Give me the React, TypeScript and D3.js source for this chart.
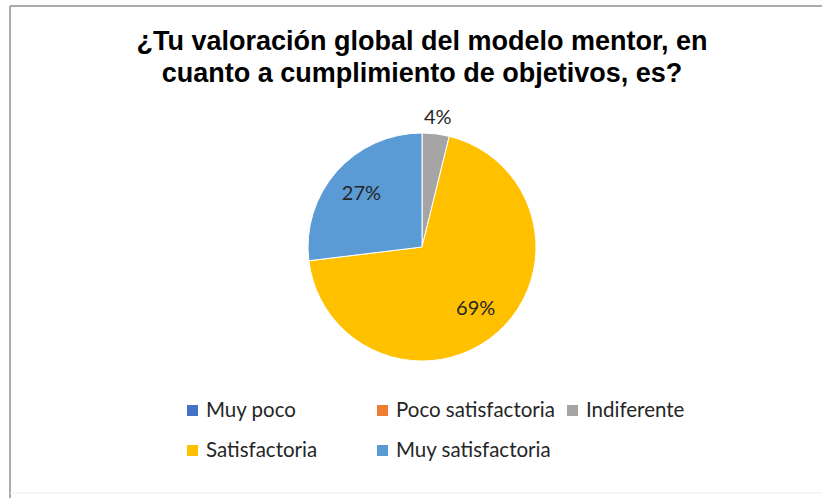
import * as d3 from "d3"
import React, { useEffect, useRef } from "react"

// Datos (26 respuestas)
const categories = ["Muy poco", "Poco satisfactoria", "Indiferente", "Satisfactoria", "Muy satisfactoria"]
const counts = [0, 0, 1, 18, 7]
const colors = ["#4472C4", "#ED7D31", "#A5A5A5", "#FFC000", "#5B9BD5"]
const titleLines = ["¿Tu valoración global del modelo mentor, en", "cuanto a cumplimiento de objetivos, es?"]

const W = 822
const H = 498

const App = () => {
    const refSvg = useRef<SVGSVGElement>(null)

    useEffect(() => {
        const svg = d3.select(refSvg.current)
        svg.selectAll("*").remove()

        // Marco del gráfico
        svg.append("rect").attr("width", W).attr("height", H).attr("fill", "#ffffff")
        svg.append("line").attr("x1", 10).attr("x2", W).attr("y1", 6).attr("y2", 6)
            .attr("stroke", "#ababab").attr("stroke-width", 2)
        svg.append("line").attr("x1", 10).attr("x2", 10).attr("y1", 6).attr("y2", H)
            .attr("stroke", "#ababab").attr("stroke-width", 2)
        svg.append("line").attr("x1", 10).attr("x2", W).attr("y1", 493).attr("y2", 493)
            .attr("stroke", "#ececec").attr("stroke-width", 1)

        // Título
        svg.append("g").selectAll("text")
            .data(titleLines)
            .join("text")
            .attr("x", 422)
            .attr("y", (d, i) => 50 + i * 32)
            .attr("text-anchor", "middle")
            .attr("font-family", "Liberation Sans, Arial, sans-serif")
            .attr("font-weight", "bold")
            .attr("font-size", 27)
            .attr("fill", "#000000")
            .text(d => d)

        // Pastel
        const cx = 422, cy = 247, r = 114
        const total = d3.sum(counts)
        const data = categories.map((c, i) => ({ name: c, value: counts[i], color: colors[i] }))
        const pie = d3.pie<any>().value(d => d.value).sort(null)
        const arcs = pie(data)
        const arc = d3.arc<any>().innerRadius(0).outerRadius(r)
        const gPie = svg.append("g").attr("transform", `translate(${cx}, ${cy})`)
        gPie.selectAll("path")
            .data(arcs.filter(a => a.value > 0))
            .join("path")
            .attr("d", arc)
            .attr("fill", d => d.data.color)
            .attr("stroke", "#ffffff")
            .attr("stroke-width", 1)

        const arcIn = d3.arc<any>().innerRadius(r * 0.71).outerRadius(r * 0.71)
        const arcOut = d3.arc<any>().innerRadius(r + 17).outerRadius(r + 17)
        gPie.selectAll("text")
            .data(arcs.filter(a => a.value > 0))
            .join("text")
            .attr("transform", d => {
                const small = d.value / total < 0.1
                const [x, y] = small ? arcOut.centroid(d) : arcIn.centroid(d)
                return `translate(${x}, ${y})`
            })
            .attr("text-anchor", "middle")
            .attr("dy", "0.35em")
            .attr("font-family", "Lato, sans-serif")
            .attr("font-size", 20)
            .attr("fill", "#262626")
            .text(d => `${Math.round(d.value / total * 100)}%`)

        // Leyenda
        const colX = [187, 377, 567]
        const rowY = [410, 450]
        const gLegend = svg.append("g")
        const items = gLegend.selectAll("g")
            .data(data)
            .join("g")
            .attr("transform", (d, i) => `translate(${colX[i % 3]}, ${rowY[Math.floor(i / 3)]})`)
        items.append("rect")
            .attr("x", 0).attr("y", -5)
            .attr("width", 11).attr("height", 11)
            .attr("fill", d => d.color)
        items.append("text")
            .attr("x", 19)
            .attr("dy", "0.35em")
            .attr("font-family", "Lato, sans-serif")
            .attr("font-size", 20.5)
            .attr("fill", "#262626")
            .text(d => d.name)
    }, [])

    return (
        <svg ref={refSvg} width={W} height={H}
            style={{ position: "absolute", left: 0, top: 0, display: "block" }}></svg>
    )
}

export default App
